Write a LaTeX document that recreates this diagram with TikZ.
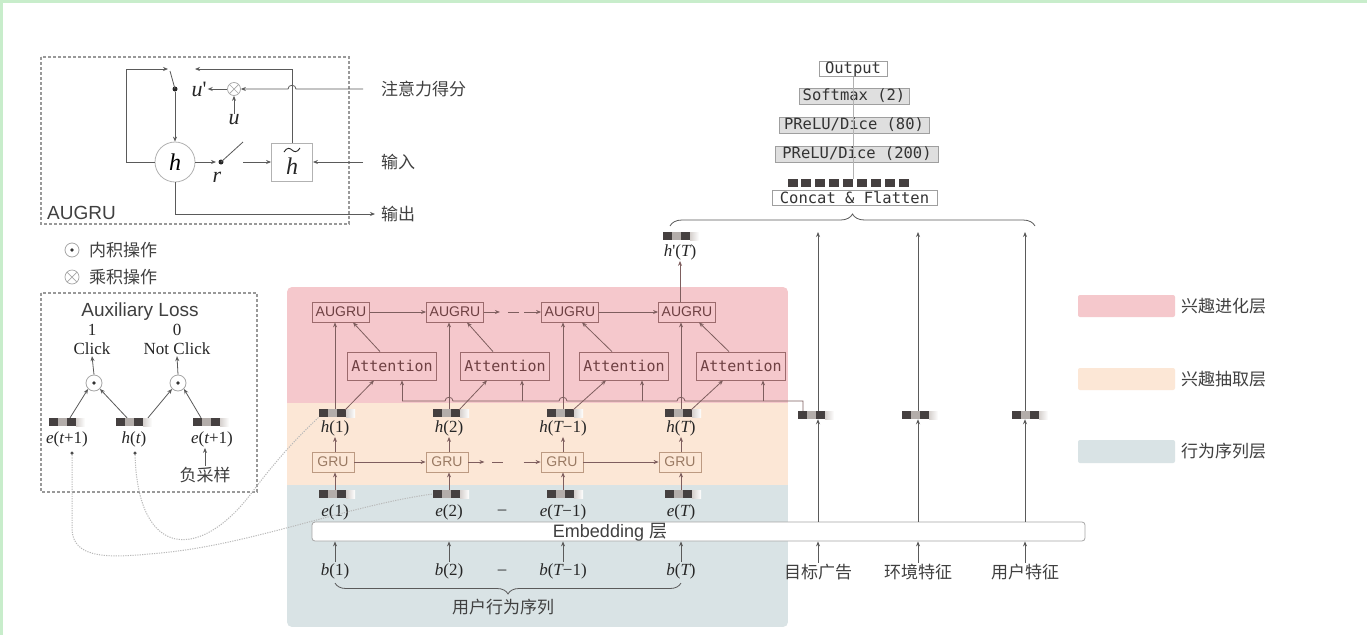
\documentclass[tikz,border=0pt]{standalone}
\usepackage{fontspec}
\setmainfont{Liberation Serif}
\newfontfamily\cjk{Noto Sans CJK SC}
\newfontfamily\sansf{Liberation Sans}
\newfontfamily\monof{DejaVu Sans Mono}
\usetikzlibrary{arrows.meta,calc,decorations.pathreplacing}
\newcommand\myit[1]{{\itshape #1}}
\newcommand\myprime{\textquotesingle}
\definecolor{frameC}{HTML}{C8EDCB}
\definecolor{lineC}{HTML}{5A5A5A}
\definecolor{txtC}{HTML}{404040}
\definecolor{pinkC}{HTML}{F5C8CC}
\definecolor{beigeC}{HTML}{FCE7D6}
\definecolor{blueC}{HTML}{D9E3E5}
\definecolor{augC}{HTML}{9B6A6C}
\definecolor{augT}{HTML}{6E4042}
\definecolor{gruC}{HTML}{BC9A82}
\definecolor{gruT}{HTML}{9A7A63}
\definecolor{brC}{HTML}{7E5E5E}
\definecolor{vd}{HTML}{454040}
\definecolor{vm}{HTML}{B3ADAA}
\definecolor{vl}{HTML}{D5D0CD}
\tikzset{
  ar/.style={-{Stealth[length=5pt,width=4pt]}, draw=lineC, line width=0.8pt},
  arb/.style={-{Stealth[length=5pt,width=4pt]}, draw=brC, line width=0.8pt},
  ln/.style={draw=lineC, line width=0.8pt},
  lnb/.style={draw=brC, line width=0.8pt},
  cjkl/.style={font=\cjk\fontsize{17}{17}\selectfont, text=txtC, inner sep=1pt},
  ml/.style={font=\fontsize{17}{17}\selectfont, text=black!85, inner sep=1pt},
  bigl/.style={font=\fontsize{22}{22}\selectfont, text=black!85, inner sep=1pt},
  sl/.style={font=\sansf\fontsize{19}{19}\selectfont, text=txtC, inner sep=1pt},
  augrubox/.style={draw=augC, text=augT, line width=0.8pt, minimum width=57pt, minimum height=20pt, inner sep=0pt, font=\sansf\fontsize{14}{14}\selectfont},
  attbox/.style={draw=augC, text=augT, line width=0.8pt, minimum width=89pt, minimum height=28pt, inner sep=0pt, font=\monof\fontsize{15}{15}\selectfont},
  grubox/.style={draw=gruC, text=gruT, line width=0.8pt, minimum width=42pt, minimum height=20pt, inner sep=0pt, font=\sansf\fontsize{14}{14}\selectfont},
  topbox/.style={draw=gray!75, fill=gray!25, line width=0.6pt, minimum height=16pt, inner sep=0pt, font=\monof\fontsize{15.5}{15.5}\selectfont, text=black!80},
  vecn/.style={minimum width=36pt, minimum height=8pt, inner sep=0pt, path picture={
     \fill[vd] (path picture bounding box.north west) rectangle ([xshift=9pt]path picture bounding box.south west);
     \fill[vm] ([xshift=9pt]path picture bounding box.north west) rectangle ([xshift=18pt]path picture bounding box.south west);
     \fill[vd] ([xshift=18pt]path picture bounding box.north west) rectangle ([xshift=27pt]path picture bounding box.south west);
     \shade[left color=vl, right color=white] ([xshift=27pt]path picture bounding box.north west) rectangle (path picture bounding box.south east);}},
  cvec/.style={minimum width=125pt, minimum height=8pt, inner sep=0pt, path picture={
     \foreach \k in {0,...,8}{\fill[vd] ([xshift=\k*13.9pt]path picture bounding box.north west) rectangle ([xshift=\k*13.9pt+10pt]path picture bounding box.south west);}}},
  otim/.style={circle, draw=gray!70, line width=0.7pt, minimum size=13pt, inner sep=0pt, fill=white, path picture={
     \draw[gray!70, line width=0.7pt] (path picture bounding box.north west) -- (path picture bounding box.south east) (path picture bounding box.north east) -- (path picture bounding box.south west);}},
  odotc/.style={circle, draw=gray!70, line width=0.8pt, minimum size=16pt, inner sep=0pt, fill=white, path picture={
     \fill[black!80] (path picture bounding box.center) circle (1.8pt);}},
  hc/.style={circle, draw=gray!60, line width=0.8pt, minimum size=40pt, inner sep=0pt, fill=white},
  dotn/.style={circle, fill=black!85, minimum size=5pt, inner sep=0pt},
  smalldot/.style={circle, fill=black!70, minimum size=3.5pt, inner sep=0pt},
  dbox/.style={draw=gray!80, line width=1.3pt, dash pattern=on 3pt off 2pt},
  auxc/.style={draw=gray!55, line width=1pt, dash pattern=on 1.2pt off 1.2pt},
}
\begin{document}
\begin{tikzpicture}[x=1pt,y=-1pt]
\useasboundingbox (0,0) rectangle (1367,635);
\fill[white] (0,0) rectangle (1367,635);
\fill[frameC] (0,0) rectangle (1367,3);
\fill[frameC] (0,0) rectangle (3,635);

% ================= AUGRU cell =================
\draw[dbox] (41,57) rectangle (349,224);
\node[hc] (hc) at (175,162) {\fontsize{24}{24}\selectfont\itshape h};
\node[draw=gray!60, fill=white, line width=0.8pt, minimum width=41pt, minimum height=38pt, inner sep=0pt] (ht) at (292,162) {};
\node[inner sep=0pt, font=\fontsize{24}{24}\selectfont, text=black!85] (htx) at (292,166) {\myit{h}};
\draw[black!85, line width=0.9pt] (284,152) .. controls (287,147) and (290,148) .. (292,150) .. controls (294,152) and (297,153) .. (300,148);
\node[otim] (ox) at (234,89) {};
\node[bigl] (up) at (199,89) {\myit{u}\myprime};
\node[bigl] (u) at (234,120) {\myit{u}};
\node[dotn] (sw) at (175,89) {};
\node[dotn] (rp) at (221,162) {};
\node[bigl] (r) at (217,177) {\myit{r}};
\coordinate (l1) at (126,162);
\coordinate (l2) at (126,69);
\coordinate (l3) at (168,69);
\coordinate (l4) at (170,71);
\draw[ar] (hc.west) -- (l1) -- (l2) -- (l3);
\draw[ln] (l4) -- (sw.center);
\draw[ar] (sw) -- (hc.north);
\coordinate (t1) at (292,69);
\coordinate (t2) at (195,69);
\draw[ar] (ht.north) -- (t1) -- (t2);
\coordinate (a0) at (363,89);
\draw[ar] (a0) -- (296,89) .. controls (296,84) and (288,84) .. (288,89) -- (ox.east);
\draw[ar] (u.north) -- (ox.south);
\draw[ar] (ox.west) -- (up.east);
\coordinate (r0) at (216,162);
\draw[ar] (hc.east) -- (r0);
\coordinate (r1) at (243,142);
\draw[ln] (rp.center) -- (r1);
\coordinate (r2) at (243,162);
\draw[ar] (r2) -- (ht.west);
\coordinate (i0) at (363,162);
\draw[ar] (i0) -- (ht.east);
\coordinate (o1) at (175,214);
\coordinate (o2) at (375,214);
\draw[ar] (hc.south) -- (o1) -- (o2);
\node[cjkl, anchor=west] (lbA) at (380,89) {注意力得分};
\node[cjkl, anchor=west] (lbI) at (380,162) {输入};
\node[cjkl, anchor=west] (lbO) at (380,214) {输出};
\node[sl, anchor=west] (lbAU) at (46,213) {AUGRU};

% legend of operators
\node[odotc, minimum size=14pt] (lg1) at (72,250) {};
\node[cjkl, anchor=west] (lg1t) at (88,250) {内积操作};
\node[otim, minimum size=14pt] (lg2) at (72,277) {};
\node[cjkl, anchor=west] (lg2t) at (88,277) {乘积操作};

% ================= Auxiliary loss =================
\draw[dbox] (41,293) rectangle (257,492);
\node[sl] (axl) at (140,312) {Auxiliary Loss};
\node[ml] (one) at (92,330) {1};
\node[ml] (clk) at (92,349) {Click};
\node[ml] (zero) at (177,330) {0};
\node[ml] (nclk) at (177,349) {Not Click};
\node[odotc] (odL) at (94,383) {};
\node[odotc] (odR) at (178,383) {};
\draw[ar] (odL.north) -- (clk.south);
\draw[ar] (odR.north) -- (nclk.south);
\node[vecn] (veL) at (67,422) {};
\node[vecn] (vhT) at (134,422) {};
\node[vecn] (veR) at (211,422) {};
\draw[ar] ($(veL.north)+(3,0)$) -- (odL.south west);
\draw[ar] ($(vhT.north)+(-7,0)$) -- (odL.south east);
\draw[ar] ($(vhT.north)+(14,0)$) -- (odR.south west);
\draw[ar] ($(veR.north)+(-10,0)$) -- (odR.south east);
\node[ml] (leL) at (67,439) {\myit{e}(\myit{t}+1)};
\node[ml] (lhT) at (134,439) {\myit{h}(\myit{t})};
\node[ml] (leR) at (212,439) {\myit{e}(\myit{t}+1)};
\node[cjkl] (neg) at (205,475) {负采样};
\draw[ar] (neg.north) -- (leR.south -| neg.north);
\node[smalldot] (dA) at (72,453) {};
\node[smalldot] (dB) at (135,453) {};

% ================= colored layers =================
\begin{scope}
\clip[rounded corners=5pt] (287,287) rectangle (788,627);
\fill[pinkC] (287,287) rectangle (788,403);
\fill[beigeC] (287,403) rectangle (788,485);
\fill[blueC] (287,485) rectangle (788,627);
\end{scope}

% embedding bar
\node[draw=gray!70, fill=white, line width=0.8pt, rounded corners=3pt, minimum width=773pt, minimum height=19pt, inner sep=0pt] (emb) at (698.5,531.5) {};
\node[inner sep=0pt, text=txtC] (embt) at (610,532) {\sansf\fontsize{18}{18}\selectfont Embedding \cjk 层};

% behavior sequence
\node[ml] (bl1) at (335,571) {\myit{b}(1)};
\node[ml] (bl2) at (449,571) {\myit{b}(2)};
\node[ml] (bl3) at (563,571) {\myit{b}(\myit{T}−1)};
\node[ml] (bl4) at (681,571) {\myit{b}(\myit{T})};
\node[ml] (bd) at (502,572) {–};
\foreach \i in {1,2,3,4}{\draw[ar] (bl\i.north) -- (bl\i.north |- emb.south);}
\draw[draw=lineC, line width=0.8pt, decorate, decoration={brace, mirror, amplitude=11pt}] (335,583) -- (681,583);
\node[cjkl] (seq) at (503,607) {用户行为序列};

% e vectors
\node[vecn] (ev1) at (337,494) {};
\node[vecn] (ev2) at (451,494) {};
\node[vecn] (ev3) at (565,494) {};
\node[vecn] (ev4) at (683,494) {};
\node[ml] (el1) at (335,512) {\myit{e}(1)};
\node[ml] (el2) at (449,512) {\myit{e}(2)};
\node[ml] (el3) at (563,512) {\myit{e}(\myit{T}−1)};
\node[ml] (el4) at (681,512) {\myit{e}(\myit{T})};
\node[ml] (ed) at (502,512) {–};

% GRU
\node[grubox] (g1) at (333,462) {GRU};
\node[grubox] (g2) at (447,462) {GRU};
\node[grubox] (g3) at (562,462) {GRU};
\node[grubox] (g4) at (680,462) {GRU};
\node[vecn] (hv1) at (337,413) {};
\node[vecn] (hv2) at (451,413) {};
\node[vecn] (hv3) at (565,413) {};
\node[vecn] (hv4) at (683,413) {};
\node[ml] (hl1) at (335,428) {\myit{h}(1)};
\node[ml] (hl2) at (449,428) {\myit{h}(2)};
\node[ml] (hl3) at (563,428) {\myit{h}(\myit{T}−1)};
\node[ml] (hl4) at (681,428) {\myit{h}(\myit{T})};
\foreach \i in {1,2,3,4}{
  \draw[arb] (ev\i.north -| hl\i) -- (g\i.south -| hl\i);
  \draw[arb] (g\i.north -| hl\i) -- (hl\i.south);
}
\draw[arb] (g1.east) -- (g2.west);
\draw[arb] (g2.east) -- ++(16,0);
\draw[lnb] ($(g2.east)+(24,0)$) -- ++(11,0);
\draw[arb] ($(g3.west)+(-17,0)$) -- (g3.west);
\draw[arb] (g3.east) -- (g4.west);

% AUGRU layer
\node[augrubox] (a1) at (341,312) {AUGRU};
\node[augrubox] (a2) at (455,312) {AUGRU};
\node[augrubox] (a3) at (570,312) {AUGRU};
\node[augrubox] (a4) at (687,312) {AUGRU};
\node[attbox] (t1n) at (392,366) {Attention};
\node[attbox] (t2n) at (505,366) {Attention};
\node[attbox] (t3n) at (624,366) {Attention};
\node[attbox] (t4n) at (741,366) {Attention};
\foreach \i in {1,2,3,4}{
  \draw[arb] (hv\i.north -| hl\i) -- (a\i.south -| hl\i);
  \draw[arb] ($(t\i n.north)+(-12,0)$) -- ($(a\i.south)+(12,0)$);
  \draw[arb] ($(hv\i.north east)+(-10,1)$) -- ($(t\i n.south)+(-18,0)$);
}
\draw[arb] (a1.east) -- (a2.west);
\draw[arb] (a2.east) -- ++(16,0);
\draw[lnb] ($(a2.east)+(24,0)$) -- ++(11,0);
\draw[arb] ($(a3.west)+(-17,0)$) -- (a3.west);
\draw[arb] (a3.east) -- (a4.west);

% target ad and other features
\node[cjkl] (f1) at (818,572) {目标广告};
\node[cjkl] (f2) at (918,572) {环境特征};
\node[cjkl] (f3) at (1025,572) {用户特征};
\node[vecn] (fv1) at (816,415) {};
\node[vecn] (fv2) at (920,415) {};
\node[vecn] (fv3) at (1030,415) {};
\coordinate (topy) at (0,232);
\foreach \i in {1,2,3}{
  \draw[ar] (f\i.north) -- (f\i.north |- emb.south);
  \draw[ar] (f\i.north |- emb.north) -- (f\i.north |- fv\i.south);
  \draw[ar] (f\i.north |- fv\i.north) -- (f\i.north |- topy);
}

% attention query bar (with hops)
\coordinate (k1) at (402,401);
\coordinate (k2) at (522,401);
\coordinate (k3) at (642,401);
\coordinate (k4) at (763,401);
\coordinate (kE) at (803,401);
\draw[lnb] (k1) -- (445,401) .. controls (445,396) and (453,396) .. (453,401)
  -- (559,401) .. controls (559,396) and (567,396) .. (567,401)
  -- (677,401) .. controls (677,396) and (685,396) .. (685,401)
  -- (kE) -- (kE |- fv1.north);
\draw[arb] (k1) -- (k1 |- t1n.south);
\draw[arb] (k2) -- (k2 |- t2n.south);
\draw[arb] (k3) -- (k3 |- t3n.south);
\draw[arb] (k4) -- (k4 |- t4n.south);

% h'(T)
\node[vecn] (hpv) at (681,236) {};
\node[ml] (hpl) at (680,252) {\myit{h}\myprime(\myit{T})};
\draw[arb] (a4.north -| hpl) -- (hpl.south);

% top brace and MLP stack
\draw[draw=lineC, line width=0.8pt, decorate, decoration={brace, amplitude=12pt}] (670,226) -- (1035,226);
\node[cvec] (cv) at (850,183) {};
\node[topbox, fill=white, minimum width=165pt, minimum height=15pt] (cf) at (854.5,198) {Concat \& Flatten};
\node[topbox, minimum width=163pt] (p200) at (857,154) {PReLU/Dice (200)};
\node[topbox, minimum width=150pt] (p80) at (854,125) {PReLU/Dice (80)};
\node[topbox, minimum width=110pt] (sm) at (854,96) {Softmax (2)};
\node[topbox, fill=white, minimum width=68pt, minimum height=15pt] (out) at (853,69) {Output};
\draw[gray!60, line width=0.5pt] (cv.north -| out.south) -- (out.south);

% dotted links from auxiliary loss
\draw[auxc] (dA) -- (72,528) .. controls (72,560) and (110,558) .. (160,553) .. controls (250,545) and (350,505) .. (ev2.west);
\draw[auxc] (dB) .. controls (138,560) and (200,560) .. (250,495) .. controls (280,455) and (300,435) .. (hv1.south west);

% layer legend
\fill[pinkC, rounded corners=2pt] (1078,295) rectangle (1175,317);
\fill[beigeC, rounded corners=2pt] (1078,368) rectangle (1175,390);
\fill[blueC, rounded corners=2pt] (1078,440) rectangle (1175,463);
\node[cjkl, anchor=west] (lgA) at (1180,306) {兴趣进化层};
\node[cjkl, anchor=west] (lgB) at (1180,379) {兴趣抽取层};
\node[cjkl, anchor=west] (lgC) at (1180,451) {行为序列层};
\end{tikzpicture}
\end{document}
